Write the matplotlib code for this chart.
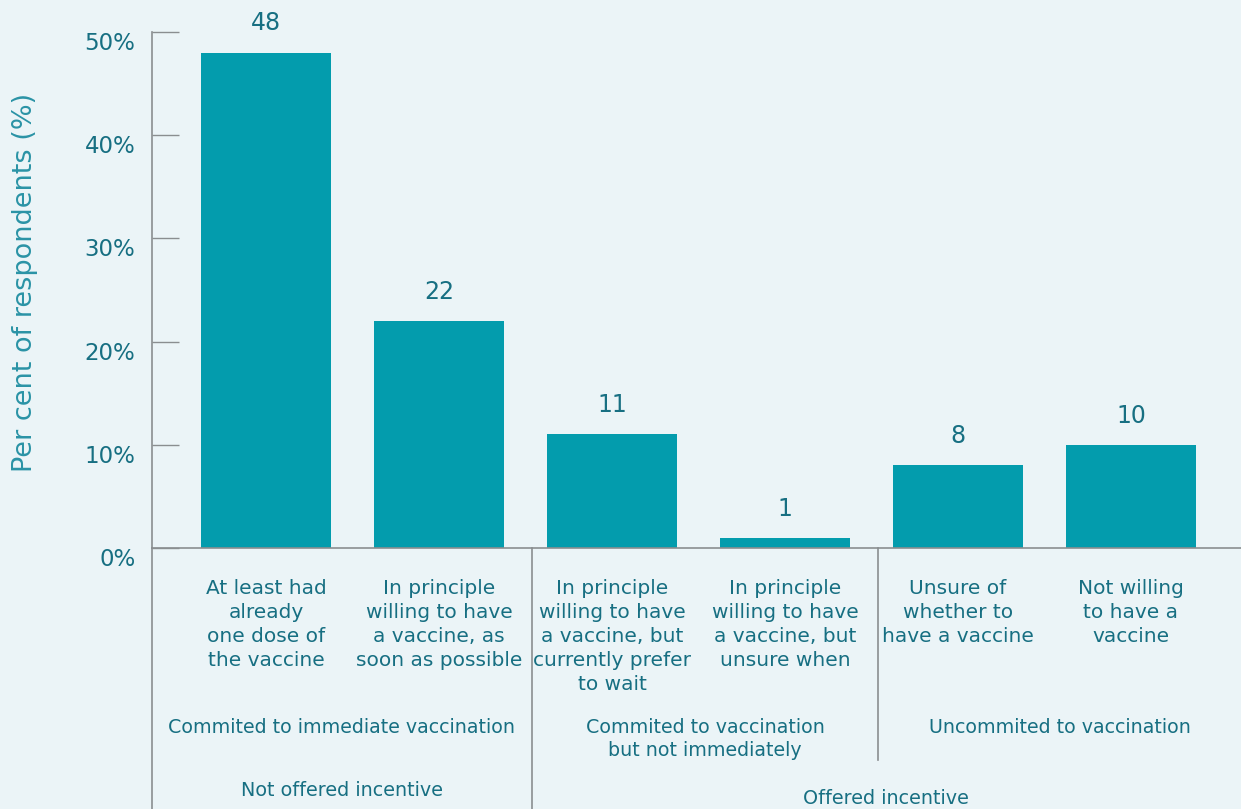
import matplotlib
matplotlib.use("Agg")
import matplotlib.pyplot as plt
import matplotlib.transforms as mtransforms

# Datos
categorias = [
    "At least had\nalready\none dose of\nthe vaccine",
    "In principle\nwilling to have\na vaccine, as\nsoon as possible",
    "In principle\nwilling to have\na vaccine, but\ncurrently prefer\nto wait",
    "In principle\nwilling to have\na vaccine, but\nunsure when",
    "Unsure of\nwhether to\nhave a vaccine",
    "Not willing\nto have a\nvaccine",
]
valores = [48, 22, 11, 1, 8, 10]
grupos = [
    "Commited to immediate vaccination",
    "Commited to vaccination\nbut not immediately",
    "Uncommited to vaccination",
]
incentivos = ["Not offered incentive", "Offered incentive"]
yticks = [0, 10, 20, 30, 40, 50]

# Estilo
fondo = "#EBF4F7"
color_barra = "#039CAD"
color_texto = "#176F82"
color_ylabel = "#2A93A6"
color_linea = "#8A8E90"
plt.rcParams["font.family"] = ["DejaVu Sans"]

fig = plt.figure(figsize=(12.41, 8.09), dpi=100, facecolor=fondo)
ax = fig.add_axes([152 / 1241, 1 - 548 / 809, 1 - 152 / 1241, (548 - 32) / 809])
ax.set_facecolor(fondo)

x = list(range(len(valores)))
ax.bar(x, valores, width=0.75, color=color_barra, zorder=2)
xmin, xmax = -0.659, 5.636
ax.set_xlim(xmin, xmax)
ax.set_ylim(0, 50)

# Etiquetas de valores
for xi, v in zip(x, valores):
    ax.annotate(str(v), (xi, v), xytext=(0, 21), textcoords="offset points",
                ha="center", va="center", fontsize=17, color=color_texto)

# Ejes
for s in ["top", "right"]:
    ax.spines[s].set_visible(False)
ax.spines["left"].set_color(color_linea)
ax.spines["bottom"].set_color(color_linea)
ax.spines["left"].set_linewidth(1.2)
ax.spines["bottom"].set_linewidth(1.2)
ax.set_xticks([])
ax.set_yticks(yticks)
ax.set_yticklabels([f"{t}%" for t in yticks])
ax.tick_params(axis="y", direction="in", length=19.4, width=1.0,
               color=color_linea, labelcolor=color_texto, labelsize=16.5, pad=12)
offset = mtransforms.ScaledTranslation(0, -9 / 100, fig.dpi_scale_trans)
for lab in ax.get_yticklabels():
    lab.set_transform(lab.get_transform() + offset)

fig.text(25 / 1241, 1 - 282 / 809, "Per cent of respondents (%)", rotation=90,
         ha="center", va="center", fontsize=19.5, color=color_ylabel)

# Texto debajo del eje
trans = mtransforms.blended_transform_factory(ax.transData, ax.transAxes)
alto = 516.0
def ypix(p):
    return (548 - p) / alto

for xi, cat in zip(x, categorias):
    ax.text(xi, ypix(579), cat, transform=trans, ha="center", va="top",
            fontsize=14.5, color=color_texto, linespacing=1.34)

sep1, sep2 = 1.535, 3.54
pos_grupos = [(xmin + sep1) / 2, (sep1 + sep2) / 2, (sep2 + xmax) / 2]
for px, g in zip(pos_grupos, grupos):
    ax.text(px, ypix(718), g, transform=trans, ha="center", va="top",
            fontsize=13.7, color=color_texto, linespacing=1.3)

ax.text((xmin + sep1) / 2, ypix(791), incentivos[0], transform=trans,
        ha="center", va="center", fontsize=13.8, color=color_texto)
ax.text((sep1 + xmax) / 2, ypix(798), incentivos[1], transform=trans,
        ha="center", va="center", fontsize=13.8, color=color_texto)

# Separadores
ax.plot([xmin, xmin], [0, ypix(809)], transform=trans, color=color_linea,
        lw=1.2, clip_on=False)
ax.plot([sep1, sep1], [0, ypix(809)], transform=trans, color=color_linea,
        lw=1.2, clip_on=False)
ax.plot([sep2, sep2], [0, ypix(760)], transform=trans, color=color_linea,
        lw=1.2, clip_on=False)

fig.savefig("out.png", dpi=100, facecolor=fondo)
